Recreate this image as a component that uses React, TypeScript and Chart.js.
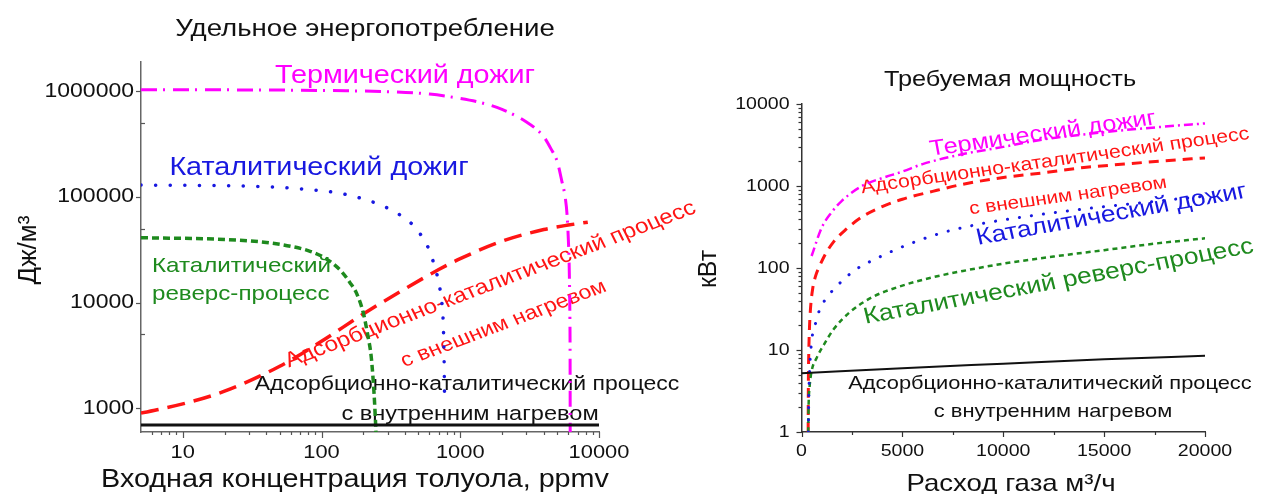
import React, { useEffect, useRef } from 'react';
import { Chart, registerables } from 'chart.js';

Chart.register(...registerables);

// ---------------- Left chart: specific energy consumption, J/m3 vs inlet toluene, ppmv
const leftThermalConc = [5, 50, 150, 300, 600, 1000, 1500, 2000, 2500, 3000, 3500, 4000, 4500, 5000, 5400, 5700, 5900, 6000, 6080, 6130, 6170, 6190, 6205];
const leftThermalVal = [1030000, 1020000, 1005000, 985000, 935000, 850000, 760000, 670000, 585000, 510000, 440000, 370000, 285000, 215000, 140000, 100000, 65000, 42000, 26000, 15000, 7000, 3000, 200];

const leftCatalyticConc = [5, 30, 70, 140, 230, 300, 370, 450, 530, 600, 650, 700, 730, 750, 760, 766, 770];
const leftCatalyticVal = [129000, 126000, 119000, 107000, 90000, 78000, 67000, 55000, 42000, 31000, 22500, 15500, 11000, 7500, 4500, 2600, 1400];

const leftReverseConc = [5, 20, 40, 60, 80, 100, 120, 140, 160, 180, 200, 215, 228, 236, 242, 246, 250];
const leftReverseVal = [41000, 39500, 37000, 34000, 31000, 27500, 23500, 19500, 15500, 12000, 8000, 5000, 3100, 1800, 1050, 650, 300];

const leftExternalConc = [5, 10, 20, 50, 100, 200, 400, 700, 1000, 2000, 4000, 6000, 8300];
const leftExternalVal = [900, 1100, 1450, 2500, 4300, 7800, 13500, 20500, 26000, 38000, 49000, 54000, 57500];

const leftInternalConc = [5, 10000];
const leftInternalVal = [695, 695];

const leftXTicks = [10, 100, 1000, 10000];
const leftXTickLabels = ['10', '100', '1000', '10000'];
const leftYTicks = [1000, 10000, 100000, 1000000];
const leftYTickLabels = ['1000', '10000', '100000', '1000000'];
const leftYMinor = [5000, 50000, 500000];

// ---------------- Right chart: required power, kW vs gas flow, m3/h
const rightThermalFlow = [500, 1000, 1500, 2000, 3000, 4000, 5000, 6000, 8000, 10000, 12000, 14000, 16000, 18000, 20000];
const rightThermalVal = [140, 310, 480, 660, 1000, 1250, 1500, 1850, 2450, 3000, 3700, 4250, 4800, 5300, 5800];

const rightExternalFlow = [330, 340, 360, 400, 450, 550, 700, 900, 1200, 1600, 2200, 3000, 4000, 5000, 6500, 8000, 10000, 12000, 14000, 16000, 18000, 20000];
const rightExternalVal = [1, 4, 9, 20, 33, 55, 80, 106, 150, 210, 295, 420, 560, 690, 860, 1050, 1270, 1450, 1680, 1850, 2030, 2200];

const rightCatalyticFlow = [340, 360, 400, 450, 520, 670, 900, 1300, 1800, 2700, 3700, 5200, 7000, 9000, 11000, 13000, 15000, 17000, 18500, 20000];
const rightCatalyticVal = [1, 2.5, 5.5, 9, 14, 20, 31, 45, 62, 96, 130, 190, 270, 350, 420, 490, 560, 630, 690, 750];

const rightReverseFlow = [335, 350, 400, 500, 750, 1100, 1600, 2400, 3500, 5000, 6500, 8000, 10000, 12500, 15000, 17500, 20000];
const rightReverseVal = [1, 2, 3.5, 5.5, 8, 11.5, 18, 29, 44, 61, 77, 92, 113, 138, 165, 198, 230];

const rightInternalFlow = [0, 5000, 10000, 15000, 20000];
const rightInternalVal = [5.2, 6.0, 6.8, 7.7, 8.5];

const rightXTicks = [0, 5000, 10000, 15000, 20000];
const rightXTickLabels = ['0', '5000', '10000', '15000', '20000'];
const rightXMinor = [2500, 7500, 12500, 17500];
const rightYTicks = [1, 10, 100, 1000, 10000];
const rightYTickLabels = ['1', '10', '100', '1000', '10000'];

// ---------------- colours
const MAGENTA = '#FF00FF';
const BLUE = '#1818E0';
const RED = '#FF1414';
const GREEN = '#1E8A1E';
const BLACK = '#111111';

const SX = 1.15; // horizontal stretch of the reference's lettering
const FONT = '"Liberation Sans", Arial, sans-serif';

// right canvas starts at this page x
const RX = 680;

type TextSpec = {
  text: string; x: number; y: number; size: number; color: string;
  align?: CanvasTextAlign; baseline?: CanvasTextBaseline; angle?: number; sx?: number;
};

type AxisDeco = {
  id: string; horizontal: boolean; majors: number[]; labels: string[]; minors: number[];
  majorLen: number; minorLen: number; minorInward?: boolean; labelGap: number; labelSize: number;
};

function pts(xs: number[], ys: number[]) {
  return xs.map((x, i) => ({ x, y: ys[i] }));
}

function logMinors(lo: number, hi: number, skip: number[]) {
  const out: number[] = [];
  for (let d = 1; d <= hi; d *= 10) {
    for (let m = 2; m <= 9; m++) {
      const v = m * d;
      if (v > lo && v < hi && !skip.includes(v)) out.push(v);
    }
  }
  return out;
}

function drawText(ctx: CanvasRenderingContext2D, t: TextSpec) {
  const sx = t.sx ?? SX;
  ctx.save();
  ctx.translate(t.x, t.y);
  ctx.scale(sx, 1);
  if (t.angle) {
    const r = (t.angle * Math.PI) / 180;
    ctx.rotate(Math.atan2(sx * Math.sin(r), Math.cos(r)));
  }
  ctx.font = `${t.size}px ${FONT}`;
  ctx.fillStyle = t.color;
  ctx.textAlign = t.align || 'center';
  ctx.textBaseline = t.baseline || 'alphabetic';
  ctx.fillText(t.text, 0, 0);
  ctx.restore();
}

function makeDecor(axes: AxisDeco[], behind: TextSpec[], front: TextSpec[], axisColor: string) {
  return {
    id: 'decor',
    beforeDatasetsDraw(chart: any) {
      const ctx = chart.ctx as CanvasRenderingContext2D;
      behind.forEach((t) => drawText(ctx, t));
    },
    afterDraw(chart: any) {
      const ctx = chart.ctx as CanvasRenderingContext2D;
      const area = chart.chartArea;
      ctx.save();
      ctx.strokeStyle = axisColor;
      ctx.lineWidth = 1.2;
      axes.forEach((a) => {
        const scale = chart.scales[a.id];
        const tick = (v: number, len: number, inward: boolean) => {
          const p = Math.round(scale.getPixelForValue(v)) + 0.5;
          ctx.beginPath();
          if (a.horizontal) {
            const y0 = area.bottom;
            ctx.moveTo(p, y0);
            ctx.lineTo(p, inward ? y0 - len : y0 + len);
          } else {
            const x0 = area.left;
            ctx.moveTo(x0, p);
            ctx.lineTo(inward ? x0 + len : x0 - len, p);
          }
          ctx.stroke();
        };
        a.minors.forEach((v) => tick(v, a.minorLen, !!a.minorInward));
        a.majors.forEach((v) => tick(v, a.majorLen, false));
        a.majors.forEach((v, i) => {
          const p = scale.getPixelForValue(v);
          if (a.horizontal) {
            drawText(ctx, { text: a.labels[i], x: p, y: area.bottom + a.labelGap, size: a.labelSize, color: BLACK, baseline: 'middle' });
          } else {
            drawText(ctx, { text: a.labels[i], x: area.left - a.labelGap, y: p, size: a.labelSize, color: BLACK, align: 'right', baseline: 'middle' });
          }
        });
      });
      ctx.restore();
      front.forEach((t) => drawText(ctx, t));
    },
  };
}

function lineDs(data: { x: number; y: number }[], color: string, width: number, dash: number[], cap: CanvasLineCap = 'butt') {
  return {
    data,
    borderColor: color,
    backgroundColor: color,
    borderWidth: width,
    borderDash: dash,
    borderCapStyle: cap,
    pointRadius: 0,
    fill: false,
    cubicInterpolationMode: 'monotone' as const,
  };
}

function baseOptions(padding: any, x: any, y: any, axisColor: string) {
  const common = {
    grid: { display: false, drawTicks: false },
    ticks: { display: false },
    border: { display: true, color: axisColor, width: 1.5 },
  };
  return {
    animation: false,
    responsive: false,
    maintainAspectRatio: false,
    events: [],
    layout: { padding },
    plugins: { legend: { display: false }, tooltip: { enabled: false }, title: { display: false } },
    scales: {
      x: { ...common, ...x },
      y: { ...common, ...y },
    },
  };
}

export default function App() {
  const leftRef = useRef<HTMLCanvasElement>(null);
  const rightRef = useRef<HTMLCanvasElement>(null);

  useEffect(() => {
    document.body.style.margin = '0';
    const lc = leftRef.current!;
    const rc = rightRef.current!;

    const leftAxes: AxisDeco[] = [
      { id: 'x', horizontal: true, majors: leftXTicks, labels: leftXTickLabels, minors: logMinors(5, 10000, leftXTicks), majorLen: 6, minorLen: 3, labelGap: 21, labelSize: 19 },
      { id: 'y', horizontal: false, majors: leftYTicks, labels: leftYTickLabels, minors: leftYMinor, majorLen: 5, minorLen: 4, minorInward: true, labelGap: 7, labelSize: 20 },
    ];
    const leftBehind: TextSpec[] = [
      { text: 'Термический дожиг', x: 405, y: 83, size: 25, color: MAGENTA },
      { text: 'Каталитический дожиг', x: 319, y: 175, size: 25, color: BLUE },
      { text: 'Каталитический', x: 152, y: 272, size: 21, color: GREEN, align: 'left' },
      { text: 'реверс-процесс', x: 152, y: 300, size: 21, color: GREEN, align: 'left' },
      { text: 'Адсорбционно-каталитический процесс', x: 493, y: 290, size: 21, color: RED, angle: -20.8 },
      { text: 'с внешним нагревом', x: 506, y: 329, size: 20, color: RED, angle: -20.6 },
      { text: 'Адсорбционно-каталитический процесс', x: 467, y: 390, size: 20, color: BLACK },
      { text: 'с внутренним нагревом', x: 470, y: 420, size: 20.5, color: BLACK },
    ];
    const leftFront: TextSpec[] = [
      { text: 'Удельное энергопотребление', x: 365, y: 36, size: 24, color: BLACK },
      { text: 'Входная концентрация толуола, ppmv', x: 355, y: 487, size: 25, color: BLACK },
      { text: 'Дж/м³', x: 29, y: 250, size: 26, color: BLACK, angle: -90, baseline: 'middle', sx: 1 },
    ];

    const left = new Chart(lc, {
      type: 'line',
      data: {
        datasets: [
          lineDs(pts(leftInternalConc, leftInternalVal), BLACK, 3, []),
          lineDs(pts(leftThermalConc, leftThermalVal), MAGENTA, 3, [16, 6, 2, 8]),
          lineDs(pts(leftCatalyticConc, leftCatalyticVal), BLUE, 3.5, [0.1, 14.5], 'round'),
          lineDs(pts(leftReverseConc, leftReverseVal), GREEN, 3.5, [7, 4]),
          lineDs(pts(leftExternalConc, leftExternalVal), RED, 3.5, [18, 9]),
        ],
      } as any,
      options: baseOptions(
        { left: 141, right: 121, top: 62, bottom: 62 },
        { type: 'logarithmic', min: 5, max: 10000 },
        { type: 'logarithmic', min: 597, max: 1880000 },
        '#666666'
      ) as any,
      plugins: [makeDecor(leftAxes, leftBehind, leftFront, '#555555')],
    });

    const rightAxes: AxisDeco[] = [
      { id: 'x', horizontal: true, majors: rightXTicks, labels: rightXTickLabels, minors: rightXMinor, majorLen: 5, minorLen: 3, labelGap: 19, labelSize: 17 },
      { id: 'y', horizontal: false, majors: rightYTicks, labels: rightYTickLabels, minors: logMinors(1, 10000, rightYTicks), majorLen: 5, minorLen: 3, labelGap: 12, labelSize: 17 },
    ];
    const o = RX;
    const rightBehind: TextSpec[] = [
      { text: 'Термический дожиг', x: 1044 - o, y: 140, size: 22, color: MAGENTA, angle: -8 },
      { text: 'Адсорбционно-каталитический процесс', x: 1056 - o, y: 166, size: 18.5, color: RED, angle: -8 },
      { text: 'с внешним нагревом', x: 1069 - o, y: 201, size: 18, color: RED, angle: -7.7 },
      { text: 'Каталитический дожиг', x: 1113 - o, y: 221, size: 23, color: BLUE, angle: -10 },
      { text: 'Каталитический реверс-процесс', x: 1060 - o, y: 288, size: 23, color: GREEN, angle: -10.4 },
      { text: 'Адсорбционно-каталитический процесс', x: 1050 - o, y: 389, size: 19, color: BLACK },
      { text: 'с внутренним нагревом', x: 1053 - o, y: 417, size: 19, color: BLACK },
    ];
    const rightFront: TextSpec[] = [
      { text: 'Требуемая мощность', x: 1010 - o, y: 86, size: 22, color: BLACK },
      { text: 'Расход газа м³/ч', x: 1011 - o, y: 491, size: 24, color: BLACK },
      { text: 'кВт', x: 709 - o, y: 269, size: 25, color: BLACK, angle: -90, baseline: 'middle', sx: 1 },
    ];

    const right = new Chart(rc, {
      type: 'line',
      data: {
        datasets: [
          lineDs(pts(rightInternalFlow, rightInternalVal), BLACK, 2, []),
          lineDs(pts(rightThermalFlow, rightThermalVal), MAGENTA, 2.5, [9, 4, 2, 4]),
          lineDs(pts(rightCatalyticFlow, rightCatalyticVal), BLUE, 3, [0.1, 12], 'round'),
          lineDs(pts(rightReverseFlow, rightReverseVal), GREEN, 2.5, [5, 4]),
          lineDs(pts(rightExternalFlow, rightExternalVal), RED, 3, [10, 7]),
        ],
      } as any,
      options: baseOptions(
        { left: 801.5 - RX, right: 60, top: 104, bottom: 62 },
        { type: 'linear', min: 0, max: 20000 },
        { type: 'logarithmic', min: 1, max: 10000 },
        '#333333'
      ) as any,
      plugins: [makeDecor(rightAxes, rightBehind, rightFront, '#333333')],
    });

    return () => {
      left.destroy();
      right.destroy();
    };
  }, []);

  return (
    <div style={{ position: 'relative', width: 1265, height: 494, background: '#fff', overflow: 'hidden' }}>
      <canvas ref={leftRef} width={720} height={494} style={{ position: 'absolute', left: 0, top: 0, width: 720, height: 494 }} />
      <canvas ref={rightRef} width={1265 - RX} height={494} style={{ position: 'absolute', left: RX, top: 0, width: 1265 - RX, height: 494 }} />
    </div>
  );
}
